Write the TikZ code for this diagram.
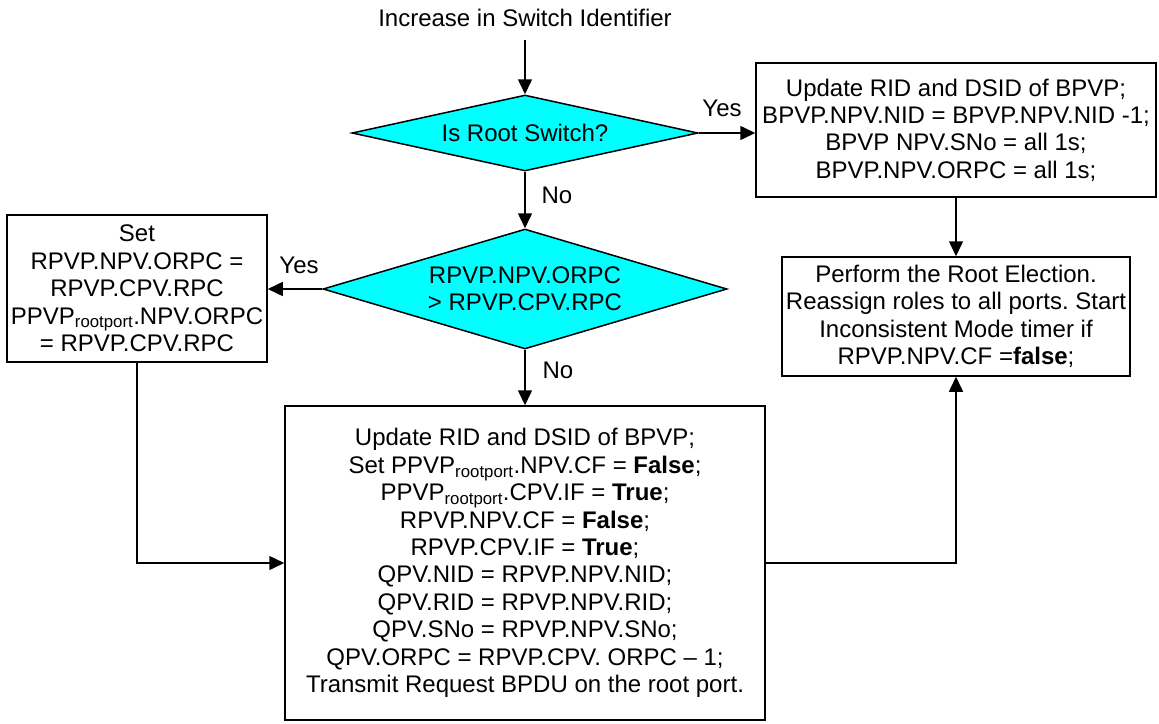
\documentclass[tikz,border=0pt]{standalone}
\usepackage{fontspec}
\setmainfont{Liberation Sans}
\usetikzlibrary{shapes.geometric,arrows.meta}
\definecolor{decisionfill}{RGB}{0,255,255}
\frenchspacing

\begin{document}
\begin{tikzpicture}[x=1pt,y=-1pt,
  font=\fontsize{24}{27.4}\selectfont,
  line width=1.5pt,
  box/.style={draw, rectangle, align=center, inner sep=0pt},
  decision/.style={draw, diamond, fill=decisionfill, align=center, inner sep=0pt},
  arr/.style={-{Triangle[length=15pt,width=14pt]}},
  lbl/.style={inner sep=0pt}]
\useasboundingbox (0,0) rectangle (1159,723);

% start label
\node[lbl] (start) at (525,18) {Increase in Switch Identifier};

% decisions
\node[decision, minimum width=346pt, minimum height=76pt, aspect=4.55] (d1) at (525,133) {Is Root Switch?};
\node[decision, minimum width=404pt, minimum height=120pt, aspect=3.37] (d2) at (525,289)
  {RPVP.NPV.ORPC\\> RPVP.CPV.RPC};

% process boxes
\node[box, minimum width=400pt, minimum height=134pt] (tr) at (956,130)
  {Update RID and DSID of BPVP;\\
   BPVP.NPV.NID = BPVP.NPV.NID -1;\\
   BPVP NPV.SNo = all 1s;\\
   BPVP.NPV.ORPC = all 1s;};

\node[box, minimum width=348pt, minimum height=119pt] (pe) at (956,316.5)
  {Perform the Root Election.\\
   Reassign roles to all ports. Start\\
   Inconsistent Mode timer if\\
   RPVP.NPV.CF =\textbf{false};};

\node[box, minimum width=260pt, minimum height=147pt] (lb) at (137,288.5)
  {Set\\
   RPVP.NPV.ORPC =\\
   RPVP.CPV.RPC\\
   PPVP\textsubscript{rootport}.NPV.ORPC\\
   = RPVP.CPV.RPC};

\node[box, minimum width=480pt, minimum height=314pt] (bb) at (525,563)
  {Update RID and DSID of BPVP;\\
   Set PPVP\textsubscript{rootport}.NPV.CF = \textbf{False};\\
   PPVP\textsubscript{rootport}.CPV.IF = \textbf{True};\\
   RPVP.NPV.CF = \textbf{False};\\
   RPVP.CPV.IF = \textbf{True};\\
   QPV.NID = RPVP.NPV.NID;\\
   QPV.RID = RPVP.NPV.RID;\\
   QPV.SNo = RPVP.NPV.SNo;\\
   QPV.ORPC = RPVP.CPV. ORPC -- 1;\\
   Transmit Request BPDU on the root port.};

% connectors
\draw[arr] ([yshift=-12pt]start.south) -- (d1.north);
\draw[arr] (d1.east) -- (d1.east -| tr.west);
\draw[arr] (d1.south) -- (d2.north);
\draw[arr] (d2.west) -- (d2.west -| lb.east);
\draw[arr] (d2.south) -- (bb.north);
\draw[arr] (tr.south) -- (pe.north);
\draw[arr] (lb.south) |- (bb.west);
\draw[arr] (bb.east) -| (pe.south);

% branch labels
\node[lbl] at (722,108) {Yes};
\node[lbl] at (557,195) {No};
\node[lbl] at (299,265) {Yes};
\node[lbl] at (558,370) {No};
\end{tikzpicture}
\end{document}
